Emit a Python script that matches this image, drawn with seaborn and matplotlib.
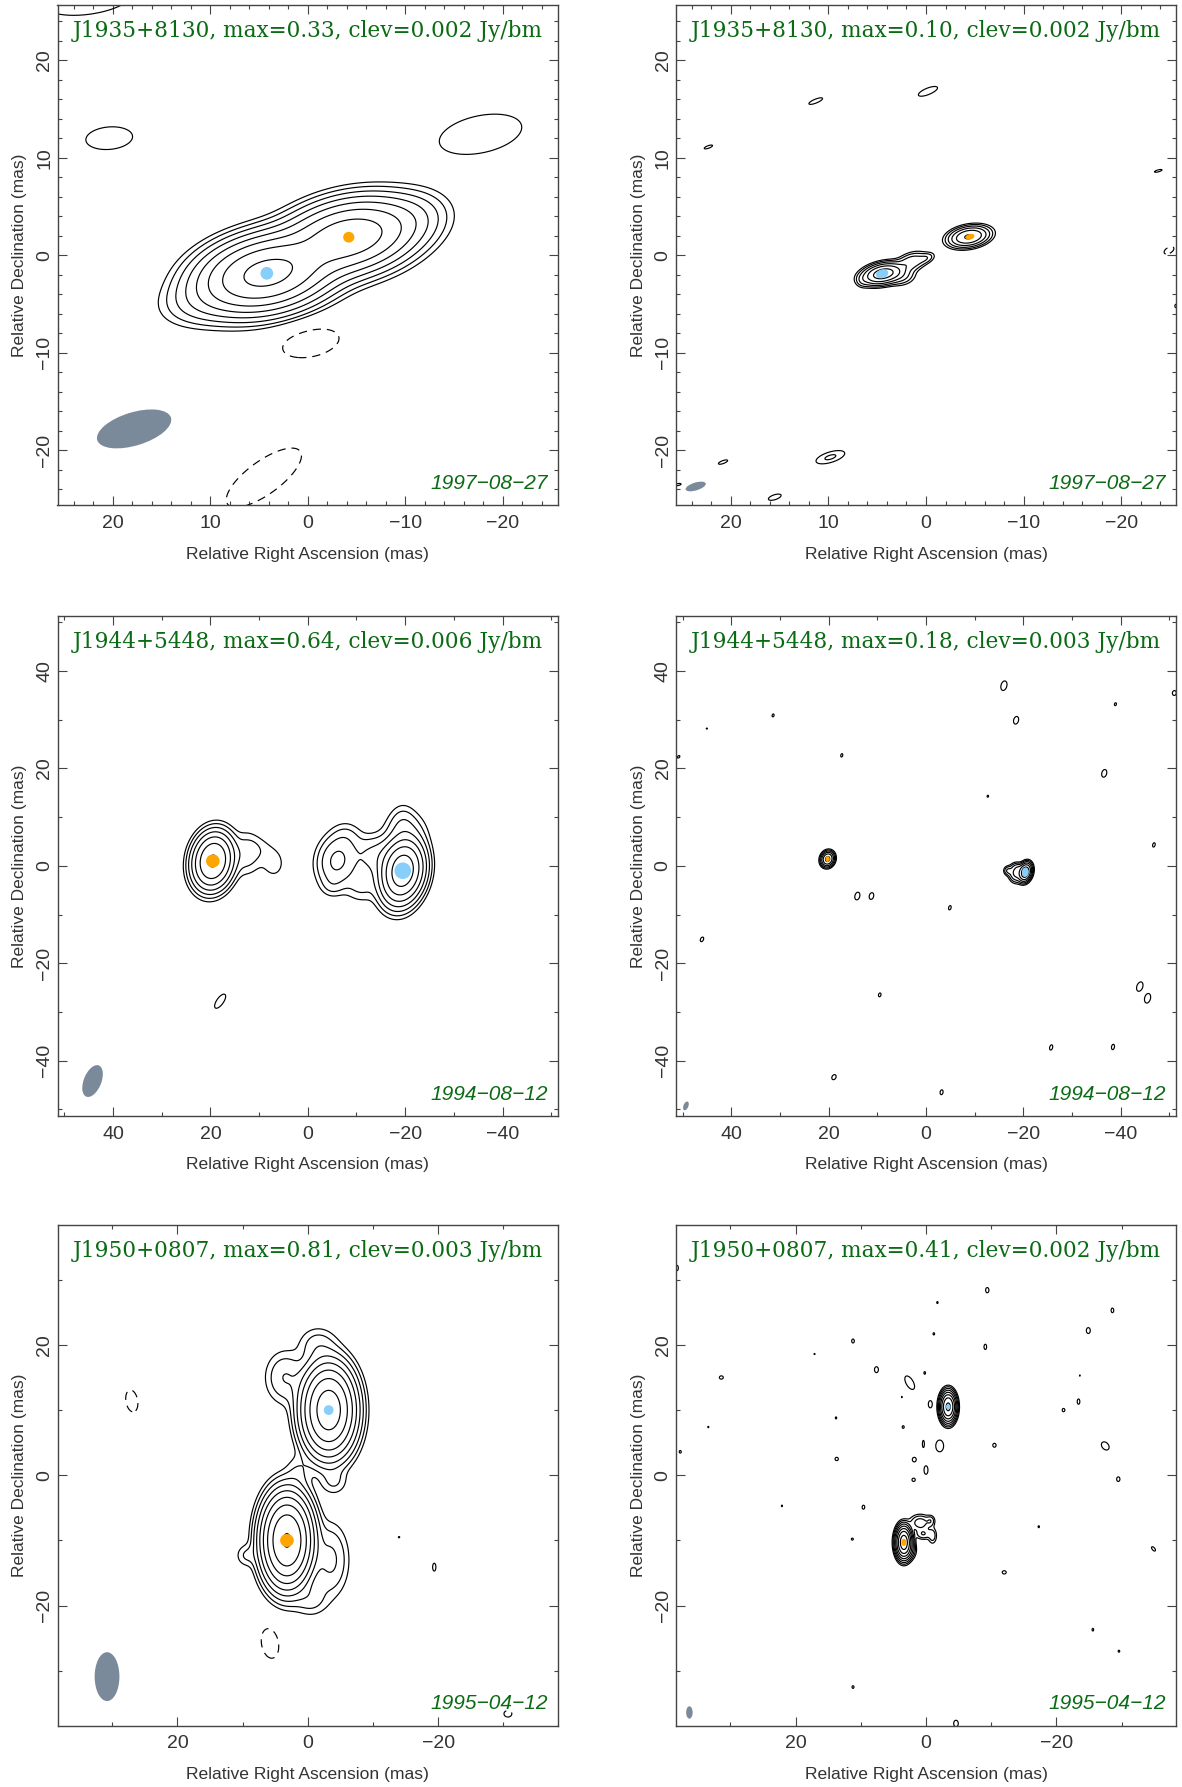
import numpy as np
import matplotlib
matplotlib.use('Agg')
import matplotlib.pyplot as plt
import seaborn as sns
from matplotlib.patches import Ellipse
from matplotlib.ticker import MultipleLocator

# gaussian components: ra, dec, peak (Jy/bm), sigma major, sigma minor, angle on the plot (deg)
comps_1 = [(4.2, -1.85, 0.33, 3.3, 1.75, 12), (-4.2, 1.85, 0.21, 3.3, 1.75, 12),
           (10.5, -4.6, 0.008, 2.6, 1.4, 12), (-10, 3.5, 0.012, 2.4, 1.5, 15)]
comps_2 = [(4.4, -1.9, 0.10, 1.05, 0.5, 12), (-4.4, 1.9, 0.07, 1.03, 0.5, 10),
           (1.5, -0.7, 0.014, 0.9, 0.5, 20), (0, -0.3, 0.006, 0.55, 0.3, 20),
           (2.5, -2.2, 0.008, 0.8, 0.5, 10), (6.5, -2.6, 0.004, 0.4, 0.4, 0)]
comps_3 = [(19.5, 1.0, 0.42, 2.9, 2.05, 80), (-19.5, -1.0, 0.64, 3.1, 2.1, 80),
           (-6, 1, 0.056, 3.0, 2.3, 80), (-20, 7, 0.02, 2.6, 2.6, 0),
           (-19.5, 9, 0.01, 2.4, 1.6, 90), (-18, -6, 0.02, 2.6, 2.2, 90),
           (-14, 2, 0.03, 3.0, 2.5, 0), (-8, 6, 0.01, 2.0, 2.0, 0),
           (-11, -4, 0.014, 2.2, 2.2, 0), (-5, -4, 0.008, 1.5, 1.5, 0),
           (12.5, 2.5, 0.016, 2.8, 1.8, 90), (10, 3.5, 0.006, 2.0, 1.8, 0), (7, 0.5, 0.0085, 2.4, 1.8, 90)]
comps_4 = [(20.2, 1.4, 0.12, 0.78, 0.65, 70), (-20.4, -1.3, 0.18, 0.95, 0.62, 75),
           (-18.5, -1.5, 0.03, 1.0, 0.8, 90), (-16.8, -1.0, 0.012, 0.55, 0.5, 90),
           (-19, -0.3, 0.01, 0.7, 0.5, 0)]
comps_5 = [(-3.2, 10, 0.60, 3.2, 1.9, 90), (3.2, -10, 0.81, 3.2, 1.75, 90),
           (-1.5, 20, 0.008, 1.8, 1.7, 0), (3.5, 15, 0.012, 2.4, 1.8, 90),
           (9.5, -12.3, 0.006, 1.0, 1.1, 0), (-3.5, -13, 0.014, 3.2, 1.6, 90),
           (-0.5, -19, 0.008, 1.6, 1.6, 0), (1.5, 0.5, 0.005, 1.7, 1.2, 90),
           (-4, -1, 0.006, 1.3, 1.3, 0)]
comps_6 = [(-3.4, 10.5, 0.30, 1.05, 0.55, 90), (3.4, -10.3, 0.41, 1.1, 0.55, 90),
           (0.9, -7.3, 0.012, 0.9, 0.7, 0), (-0.7, -7, 0.006, 0.5, 0.4, 90),
           (-1, -9.3, 0.006, 0.75, 0.4, 90), (0.4, -9, 0.008, 0.7, 0.5, 0),
           (2.6, -11.5, 0.01, 0.8, 0.6, 90)]

# small islands at the first contour: ra, dec, half major, half minor, angle
islands_1 = [(20.35, 12, 2.4, 1.15, 5), (-17.7, 12.4, 4.3, 1.9, 12), (22.5, 26.3, 4.6, 1.6, 8)]
islands_2 = [(-0.2, 16.8, 1.05, 0.33, 22), (11.3, 15.8, 0.75, 0.2, 22), (22.3, 11.1, 0.45, 0.13, 20),
             (-23.8, 8.65, 0.4, 0.1, 15), (20.8, -21.2, 0.5, 0.15, 20), (15.5, -24.8, 0.68, 0.25, 18),
             (25.4, -23.5, 0.3, 0.1, 10), (-25.7, -5.2, 0.2, 0.2, 0)]
islands_3 = [(18, -27.8, 1.7, 0.7, 55)]
islands_4 = [(-16, 37, 1.0, 0.6, 75), (-18.5, 29.9, 0.8, 0.5, 75), (-38.9, 33.2, 0.3, 0.2, 75),
             (-36.6, 19, 0.8, 0.5, 75), (-12.7, 14.3, 0.2, 0.15, 75), (31.4, 30.9, 0.3, 0.2, 75),
             (45, 28.2, 0.12, 0.1, 0), (50.8, 22.4, 0.3, 0.2, 45), (17.3, 22.7, 0.35, 0.2, 75),
             (-46.8, 4.3, 0.45, 0.25, 75), (14.1, -6.2, 0.8, 0.5, 75), (11.2, -6.2, 0.7, 0.45, 75),
             (-4.9, -8.6, 0.45, 0.25, 75), (46, -15.1, 0.5, 0.3, 65), (9.5, -26.5, 0.4, 0.25, 75),
             (-43.9, -24.8, 1.0, 0.6, 70), (-45.5, -27.2, 1.0, 0.6, 75), (-25.7, -37.3, 0.55, 0.3, 75),
             (-38.4, -37.2, 0.55, 0.3, 80), (18.9, -43.4, 0.55, 0.4, 60), (-3.2, -46.5, 0.5, 0.3, 80),
             (-51, 35.5, 0.5, 0.4, 80)]
islands_5 = [(-14, -9.5, 0.1, 0.1, 0), (-19.4, -14.1, 0.6, 0.25, 90)]
islands_6 = [(-9.4, 28.4, 0.4, 0.25, 90), (-1.75, 26.5, 0.15, 0.1, 90), (-28.6, 25.3, 0.35, 0.2, 90),
             (-24.9, 22.2, 0.45, 0.3, 90), (-1.2, 21.7, 0.17, 0.12, 90), (-9.1, 19.7, 0.4, 0.2, 90),
             (11.2, 20.6, 0.3, 0.2, 90), (17.1, 18.6, 0.1, 0.05, 0), (7.6, 16.2, 0.45, 0.3, 90),
             (0.2, 15.7, 0.2, 0.12, 90), (2.5, 14.2, 1.15, 0.55, 120), (31.4, 15, 0.3, 0.25, 0),
             (-23.6, 15.3, 0.1, 0.05, 90), (3.7, 12, 0.1, 0.05, 90), (-0.66, 10.9, 0.55, 0.3, 90),
             (-23.4, 11.3, 0.4, 0.2, 90), (-21.1, 10, 0.25, 0.2, 90), (13.8, 8.8, 0.15, 0.1, 90),
             (33.4, 7.4, 0.1, 0.08, 90), (3.5, 7.4, 0.2, 0.15, 90), (0.4, 4.8, 0.55, 0.15, 90),
             (-2.1, 4.5, 0.9, 0.6, 90), (-10.5, 4.6, 0.3, 0.25, 90), (-27.5, 4.5, 0.7, 0.5, 130),
             (37.7, 3.6, 0.2, 0.15, 90), (13.7, 2.5, 0.25, 0.25, 0), (1.8, 2.4, 0.35, 0.3, 90),
             (0, 0.8, 0.65, 0.3, 90), (1.9, -0.7, 0.25, 0.25, 0), (-29.5, -0.6, 0.35, 0.25, 90),
             (22.1, -4.7, 0.12, 0.08, 90), (9.6, -4.9, 0.3, 0.2, 90), (-17.3, -7.9, 0.15, 0.1, 90),
             (11.3, -9.8, 0.15, 0.15, 0), (-34.9, -11.3, 0.4, 0.2, 130), (-12, -14.9, 0.3, 0.25, 0),
             (-25.6, -23.7, 0.2, 0.12, 90), (-29.6, -27, 0.15, 0.12, 90), (11.2, -32.5, 0.2, 0.15, 90),
             (-4.6, -38.1, 0.5, 0.35, 90), (38.2, 31.8, 0.4, 0.2, 90)]

# negative islands, drawn dashed
holes_1 = [(-0.3, -9, 2.95, 1.4, 12), (4.5, -22.8, 4.6, 1.7, 36)]
holes_2 = [(-24.9, 0.5, 0.55, 0.3, 30)]
holes_5 = [(27, 11.4, 1.7, 0.9, 100), (5.8, -25.8, 2.3, 1.3, 100), (-30.7, -36.6, 0.6, 0.5, 0)]

# second contour island on the top right map
rings_2 = [(9.8, -20.7, 0.0045, 1.2, 0.42, 17)]

# blue and orange core dots: ra, dec, width, height, angle
blue_core = [(4.2, -1.85, 1.3, 1.3, 0), (4.5, -1.9, 1.3, 0.9, 15), (-19.5, -1.0, 3.4, 3.4, 0),
             (-20.4, -1.3, 1.4, 1.9, 0), (-3.2, 10, 1.5, 1.5, 0), (-3.4, 10.5, 0.7, 0.8, 0)]
orange_core = [(-4.2, 1.85, 1.15, 1.1, 0), (-4.5, 1.9, 0.95, 0.55, 15), (19.5, 1.0, 2.8, 2.7, 0),
               (20.2, 1.4, 0.9, 1.2, 0), (3.2, -10, 2.1, 2.0, 0), (3.4, -10.3, 0.8, 1.1, 0)]

# restoring beam: ra, dec, major, minor, angle
beams = [(17.8, -17.8, 7.9, 3.4, 17), (23.6, -23.7, 2.15, 0.8, 17), (44.2, -44.2, 6.9, 3.6, 68),
         (49.3, -49.3, 1.9, 1.0, 68), (30.8, -30.9, 7.5, 3.8, 90), (36.3, -36.4, 1.9, 1.0, 90)]

names = ['J1935+8130', 'J1935+8130', 'J1944+5448', 'J1944+5448', 'J1950+0807', 'J1950+0807']
peaks = ['0.33', '0.10', '0.64', '0.18', '0.81', '0.41']
clevs = [0.002, 0.002, 0.006, 0.003, 0.003, 0.002]
dates = ['1997-08-27', '1997-08-27', '1994-08-12', '1994-08-12', '1995-04-12', '1995-04-12']
limits = [25.65, 25.65, 51.4, 51.4, 38.4, 38.4]
major_step = [10, 10, 20, 20, 20, 20]
minor_step = [2, 2, 10, 10, 10, 10]
all_comps = [comps_1, comps_2, comps_3, comps_4, comps_5, comps_6]
all_islands = [islands_1, islands_2, islands_3, islands_4, islands_5, islands_6]
all_holes = [holes_1, holes_2, [], [], holes_5, []]
all_rings = [[], rings_2, [], [], [], []]


def gauss(xx, yy, ra, dec, amp, s_maj, s_min, theta):
    u = -(xx - ra)
    v = yy - dec
    t = np.radians(theta)
    a = u * np.cos(t) + v * np.sin(t)
    b = -u * np.sin(t) + v * np.cos(t)
    return amp * np.exp(-0.5 * ((a / s_maj) ** 2 + (b / s_min) ** 2))


def build_map(i):
    lim = limits[i] + 3
    x = np.linspace(lim, -lim, 1701)
    y = np.linspace(-lim, lim, 1701)
    xx, yy = np.meshgrid(x, y)
    zz = np.zeros_like(xx)
    for c in all_comps[i] + all_rings[i]:
        zz += gauss(xx, yy, *c)
    # islands peak at 1.6 clev, so the half sizes map to sigma by 0.97
    for ra, dec, hmaj, hmin, th in all_islands[i]:
        zz += gauss(xx, yy, ra, dec, 1.6 * clevs[i], hmaj / 0.97, hmin / 0.97, th)
    for ra, dec, hmaj, hmin, th in all_holes[i]:
        zz += gauss(xx, yy, ra, dec, -1.6 * clevs[i], hmaj / 0.97, hmin / 0.97, th)
    return x, y, zz


sns.set_theme(style='ticks', rc={'axes.edgecolor': '#444444', 'axes.linewidth': 1.0,
                                 'xtick.color': '#444444', 'ytick.color': '#444444',
                                 'text.color': '#333333', 'axes.labelcolor': '#333333'})
plt.rcParams['font.family'] = ['Liberation Sans', 'DejaVu Sans']

fig = plt.figure(figsize=(11.82, 17.87), dpi=100)
W, H = 1182.0, 1787.0
lefts = [57.5, 675.7]
width = 500.6
rows = [5, 615.6, 1225]
height = 500.5

green = '#0b6b14'
for i in range(6):
    col = i % 2
    top = rows[i // 2]
    ax = fig.add_axes([lefts[col] / W, 1 - (top + height) / H, width / W, height / H])

    x, y, zz = build_map(i)
    lev = clevs[i] * 2.0 ** np.arange(0, 10)
    lev = lev[lev < float(peaks[i])]
    ax.contour(x, y, zz, levels=np.concatenate(([-clevs[i]], lev)), colors='black', linewidths=0.85,
               negative_linestyles=(0, (7, 5)))

    ra, dec, maj, mnr, th = beams[i]
    ax.add_patch(Ellipse((ra, dec), maj, mnr, angle=180 - th, color='#7b8a9a', lw=0, zorder=3))
    ra, dec, w, h, th = blue_core[i]
    ax.add_patch(Ellipse((ra, dec), w, h, angle=-th, color='#87cefa', lw=0, zorder=4))
    ra, dec, w, h, th = orange_core[i]
    ax.add_patch(Ellipse((ra, dec), w, h, angle=-th, color='#ffa500', lw=0, zorder=4))

    ax.set_xlim(limits[i], -limits[i])
    ax.set_ylim(-limits[i], limits[i])

    for axis in (ax.xaxis, ax.yaxis):
        axis.set_major_locator(MultipleLocator(major_step[i]))
        axis.set_minor_locator(MultipleLocator(minor_step[i]))
    ax.tick_params(which='major', direction='in', length=6.2, width=0.8, top=True, right=True,
                   labelsize=14, labelcolor='#333333')
    ax.tick_params(axis='x', which='major', pad=7)
    ax.tick_params(axis='y', which='major', pad=3)
    ax.tick_params(which='minor', direction='in', length=3.1, width=0.8, top=True, right=True)
    for lab in ax.get_yticklabels():
        lab.set_rotation(90)
        lab.set_va('center')

    ax.set_xlabel('Relative Right Ascension (mas)', fontsize=12.6)
    ax.set_ylabel('Relative Declination (mas)', fontsize=12.5)
    ax.xaxis.set_label_coords(0.5, -0.097)
    ax.yaxis.set_label_coords(-0.075, 0.5)
    ax.xaxis.label.set_va('center')
    ax.yaxis.label.set_va('center')

    ax.text(0.5, 0.948, f'{names[i]}, max={peaks[i]}, clev={clevs[i]:.3f} Jy/bm', transform=ax.transAxes,
            ha='center', va='center', color=green, fontsize=15.6, family=['DejaVu Serif'], zorder=5)
    ax.text(0.98, 0.043, dates[i].replace('-', '\u2212'), transform=ax.transAxes, ha='right', va='center',
            color=green, fontsize=15, style='italic', zorder=5)

fig.savefig('out.png', dpi=100)
